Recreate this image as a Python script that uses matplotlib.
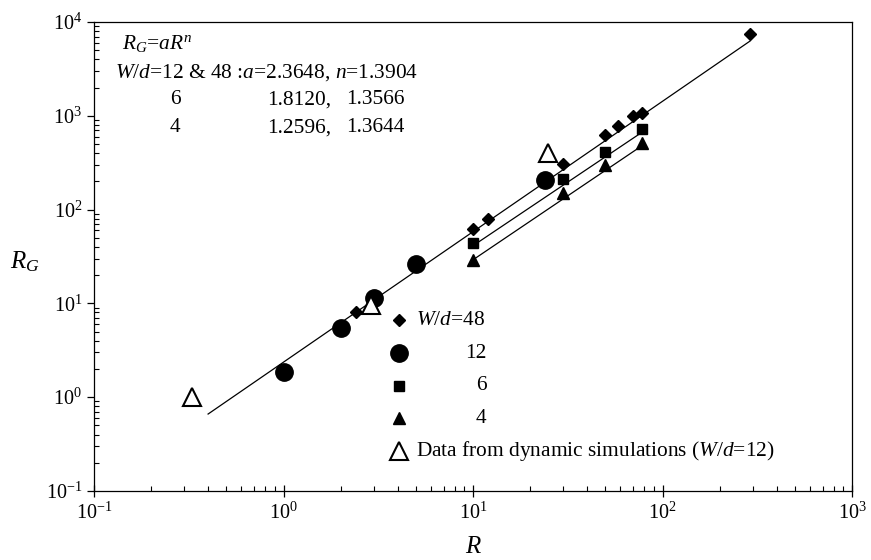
import numpy as np
import matplotlib
matplotlib.use("Agg")
import matplotlib.pyplot as plt
from matplotlib.lines import Line2D

plt.rcParams['font.family'] = ['Liberation Serif', 'DejaVu Serif']
plt.rcParams['mathtext.fontset'] = 'custom'
plt.rcParams['mathtext.rm'] = 'Liberation Serif'
plt.rcParams['mathtext.it'] = 'Liberation Serif:italic'
plt.rcParams['mathtext.bf'] = 'Liberation Serif:bold'

# ---- data ----
R_48 = [2.4, 10, 12, 30, 50, 58, 70, 78, 290]
RG_48 = [8.0, 62, 79, 310, 630, 780, 1000, 1080, 7400]
R_12 = [1, 2, 3, 5, 24]
RG_12 = [1.85, 5.5, 11.3, 26, 207]
R_6 = [10, 30, 50, 78]
RG_6 = [44, 210, 410, 730]
R_4 = [10, 30, 50, 78]
RG_4 = [29, 150, 300, 510]
R_dyn = [0.33, 2.9, 25]
RG_dyn = [1.0, 9.7, 400]

fit_labels = ["12 & 48", "6", "4"]
fit_a = [2.3648, 1.8120, 1.2596]
fit_n = [1.3904, 1.3566, 1.3644]
fit_Rmin = [0.4, 10, 10]
fit_Rmax = [290, 78, 78]

fig = plt.figure(figsize=(8.71, 5.60), dpi=100)
ax = fig.add_axes([94/871, 1-491/560, 758/871, 469/560])

# fitted lines
for a, n, r0, r1 in zip(fit_a, fit_n, fit_Rmin, fit_Rmax):
    rr = np.logspace(np.log10(r0), np.log10(r1), 100)
    ax.plot(rr, a * rr**n, color='black', lw=0.9, zorder=2)

ax.plot(R_48, RG_48, linestyle='none', marker='D', ms=6, color='black', zorder=3)
ax.plot(R_12, RG_12, linestyle='none', marker='o', ms=12.5, color='black', zorder=3)
ax.plot(R_6, RG_6, linestyle='none', marker='s', ms=7.5, color='black', zorder=3)
ax.plot(R_4, RG_4, linestyle='none', marker='^', ms=9, color='black', zorder=3)
ax.plot(R_dyn, RG_dyn, linestyle='none', marker='^', ms=13, mfc='white',
        mec='black', mew=1.5, zorder=4)

ax.set_xscale('log')
ax.set_yscale('log')
ax.set_xlim(1e-1, 1e3)
ax.set_ylim(1e-1, 1e4)

ax.tick_params(which='major', direction='out', length=5, width=0.9, labelsize=14.5,
               top=False, right=False)
ax.tick_params(which='minor', direction='in', length=3.5, width=0.8,
               top=False, right=False)
ax.tick_params(axis='x', which='major', direction='inout', length=8, pad=4)
for s in ax.spines.values():
    s.set_linewidth(0.9)

ax.set_xlabel('$R$', fontsize=18)
ax.xaxis.set_label_coords(0.5, -0.095)
ax.set_ylabel('$R_G$', fontsize=18, rotation=0, ha='center', va='center')
ax.yaxis.set_label_coords(-0.091, 0.488)

# equation annotation
fs = 15.4
ax.text(0.037, 0.955, '$R_G$=$aR^n$', transform=ax.transAxes, fontsize=fs, va='center')
ax.text(0.0277, 0.893, '$W$/$d$=' + fit_labels[0] + ' :$a$=%.4f, $n$=%.4f' % (fit_a[0], fit_n[0]),
        transform=ax.transAxes, fontsize=fs, va='center')
for i, yy in zip([1, 2], [0.834, 0.774]):
    ax.text(0.107, yy, fit_labels[i], transform=ax.transAxes, fontsize=fs,
            va='center', ha='center')
    ax.text(0.228, yy, '%.4f,' % fit_a[i], transform=ax.transAxes, fontsize=fs, va='center')
    ax.text(0.333, yy, '%.4f' % fit_n[i], transform=ax.transAxes, fontsize=fs, va='center')

# legend (manual layout)
leg_y = [0.364, 0.2935, 0.224, 0.155, 0.0853]
leg_mk = [dict(marker='D', ms=6, color='black'),
          dict(marker='o', ms=12.5, color='black'),
          dict(marker='s', ms=7.5, color='black'),
          dict(marker='^', ms=9, color='black'),
          dict(marker='^', ms=13, mfc='white', mec='black', mew=1.5)]
for yy, mk in zip(leg_y, leg_mk):
    ax.add_line(Line2D([0.4028], [yy], linestyle='none', transform=ax.transAxes, **mk))
ax.text(0.4248, leg_y[0], '$W$/$d$=48', transform=ax.transAxes, fontsize=fs, va='center')
for yy, lab in zip(leg_y[1:4], ['12', '6', '4']):
    ax.text(0.518, yy, lab, transform=ax.transAxes, fontsize=fs, va='center', ha='right')
ax.text(0.4248, leg_y[4], 'Data from dynamic simulations ($W$/$d$=12)',
        transform=ax.transAxes, fontsize=fs, va='center')

fig.savefig('out.png', dpi=100)
